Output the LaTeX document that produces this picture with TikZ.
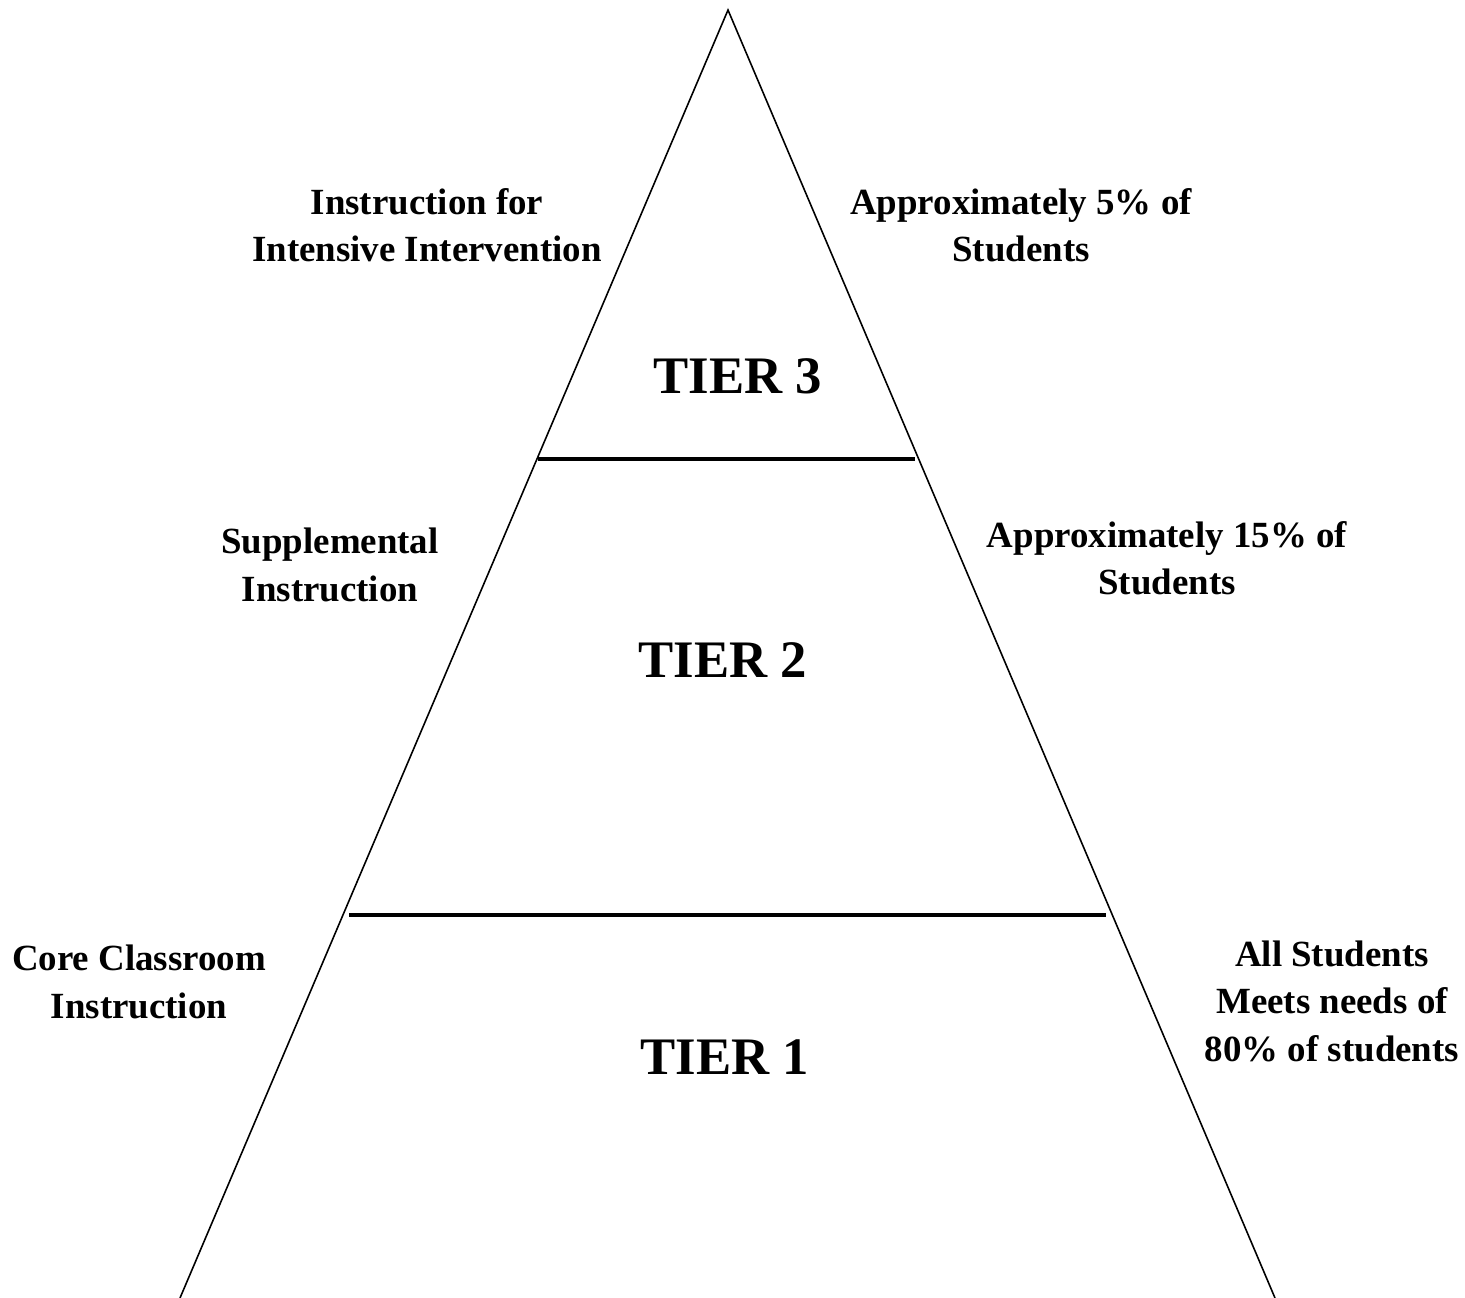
\documentclass[tikz,border=0pt]{standalone}
\usepackage{fontspec}
\setmainfont{Liberation Serif}
\usetikzlibrary{positioning}
\tikzset{side/.style={font=\fontsize{21}{27}\selectfont\bfseries,align=center},
tier/.style={font=\fontsize{30}{36}\selectfont\bfseries}}

\begin{document}
\begin{tikzpicture}[x=0.2mm,y=-0.2mm]
\useasboundingbox (0,0) rectangle (1465,1298);
\coordinate (top) at (728,10);
\coordinate (bl) at (180,1298);
\coordinate (br) at (1275,1298);
\draw[line width=0.9pt] (bl) -- (top) -- (br);
\coordinate (l3) at (538,459);
\coordinate (r3) at (915,459);
\coordinate (l2) at (349,915);
\coordinate (r2) at (1106,915);
\draw[line width=2.2pt] (l3) -- (r3);
\draw[line width=2.2pt] (l2) -- (r2);
\node[tier] (t3) at (738,376) {TIER 3};
\node[tier] (t2) at (723,660) {TIER 2};
\node[tier] (t1) at (725,1057) {TIER 1};
\node[side] (ins3) at (427,225) {Instruction for\\Intensive Intervention};
\node[side] (pct3) at (1021,225) {Approximately 5\% of\\Students};
\node[side] (ins2) at (330,565) {Supplemental\\Instruction};
\node[side] (pct2) at (1167,558) {Approximately 15\% of\\Students};
\node[side] (ins1) at (139,982) {Core Classroom\\Instruction};
\node[side] (pct1) at (1332,1001) {All Students\\Meets needs of\\80\% of students};
\end{tikzpicture}
\end{document}
